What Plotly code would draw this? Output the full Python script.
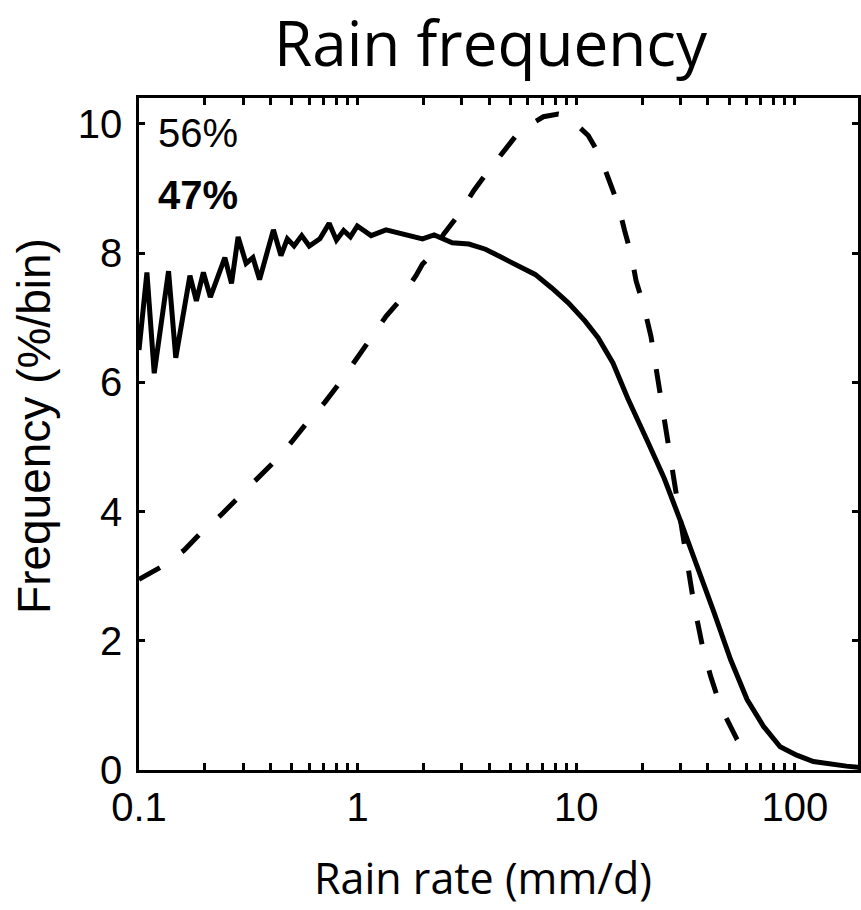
import plotly.graph_objects as go

# Solid curve (rain rate mm/d, frequency %/bin)
solid_x = [0.1, 0.1087, 0.1174, 0.1365, 0.1473, 0.171, 0.183, 0.197, 0.212, 0.247,
           0.265, 0.284, 0.309, 0.332, 0.356, 0.412, 0.446, 0.477, 0.512, 0.555,
           0.601, 0.672, 0.741, 0.800, 0.863, 0.927, 0.997, 1.153, 1.349, 1.607,
           1.981, 2.239, 2.710, 3.228, 3.846, 4.571, 5.445, 6.486, 7.727, 9.20,
           10.96, 12.59, 14.72, 17.22, 21.24, 25.29, 30.10, 35.86, 42.68, 50.82, 60.50,
           72.08, 85.70, 102.0, 121.6, 172.2, 200.0]
solid_y = [6.50, 7.70, 6.14, 7.72, 6.38, 7.65, 7.26, 7.70, 7.32, 7.93,
           7.53, 8.25, 7.84, 7.93, 7.59, 8.36, 7.96, 8.22, 8.11, 8.27,
           8.11, 8.22, 8.46, 8.20, 8.35, 8.25, 8.42, 8.27, 8.36, 8.29,
           8.22, 8.28, 8.16, 8.14, 8.06, 7.93, 7.80, 7.67, 7.46, 7.23,
           6.95, 6.69, 6.30, 5.75, 5.08, 4.51, 3.84, 3.16, 2.44, 1.71, 1.09,
           0.67, 0.36, 0.23, 0.13, 0.06, 0.04]

# Dashed curve
dash_x = [0.1, 0.1259, 0.1607, 0.188, 0.236, 0.281, 0.347, 0.412, 0.500, 0.585,
          0.708, 0.828, 1.349, 1.552, 1.849, 1.981, 2.123, 2.484, 2.909, 3.404,
          3.981, 4.742, 5.546, 7.079, 8.279, 9.12, 11.35, 12.82, 14.22, 15.52,
          16.64, 17.83, 18.79, 20.37, 21.98, 24.43, 27.10, 29.58, 32.28, 34.67,
          37.76, 41.21, 45.71, 54.45, 64.86]
dash_y = [2.95, 3.14, 3.40, 3.64, 3.94, 4.19, 4.51, 4.76, 5.08, 5.37,
          5.69, 5.99, 7.02, 7.26, 7.65, 7.83, 7.93, 8.30, 8.60, 8.97,
          9.28, 9.62, 9.90, 10.11, 10.15, 10.12, 9.82, 9.51, 9.10, 8.76,
          8.35, 7.98, 7.57, 7.18, 6.71, 5.75, 4.82, 4.04, 3.21, 2.54,
          1.92, 1.45, 0.98, 0.47, 0.18]

x_major = [0.1, 1, 10, 100]
x_major_text = ["0.1", "1", "10", "100"]
x_minor = [0.2, 0.3, 0.4, 0.5, 0.6, 0.7, 0.8, 0.9,
           2, 3, 4, 5, 6, 7, 8, 9,
           20, 30, 40, 50, 60, 70, 80, 90]
y_tickvals = [0, 2, 4, 6, 8, 10]
y_ticktext = ["0", "2", "4", "6", "8", "10"]

title_text = "Rain frequency"
xlabel = "Rain rate (mm/d)"
ylabel = "Frequency (%/bin)"
note1 = "56%"
note2 = "<b>47%</b>"

ARIAL = "Liberation Sans, Arial, Helvetica, sans-serif"
SANS = "Open Sans, sans-serif"

XRANGE = [-1, 2.289]
YRANGE = [0, 10.40]

fig = go.Figure()
fig.add_trace(go.Scatter(x=solid_x, y=solid_y, mode="lines",
                         line=dict(color="black", width=5),
                         showlegend=False, hoverinfo="skip"))
fig.add_trace(go.Scatter(x=dash_x, y=dash_y, mode="lines",
                         line=dict(color="black", width=5, dash="24px,27px"),
                         showlegend=False, hoverinfo="skip"))

fig.update_layout(
    width=861, height=910,
    margin=dict(l=139, r=0, t=98, b=140, pad=0),
    paper_bgcolor="white", plot_bgcolor="white",
    showlegend=False,
    xaxis=dict(type="log", range=XRANGE,
               tickmode="array", tickvals=x_major, ticktext=x_major_text,
               ticks="inside", ticklen=7, tickwidth=2.5, tickcolor="black",
               showline=True, linecolor="black", linewidth=2.5,
               mirror="ticks", showgrid=False, zeroline=False,
               layer="above traces",
               tickfont=dict(family=ARIAL, size=40, color="black"),
               minor=dict(tickmode="array", tickvals=x_minor, ticks="inside",
                          ticklen=7, tickwidth=2.5, tickcolor="black",
                          showgrid=False)),
    yaxis=dict(range=YRANGE,
               tickmode="array", tickvals=y_tickvals, ticktext=y_ticktext,
               ticks="inside", ticklen=6, tickwidth=2.5, tickcolor="black",
               showline=True, linecolor="black", linewidth=2.5,
               mirror="ticks", showgrid=False, zeroline=False,
               layer="above traces",
               tickfont=dict(family=ARIAL, size=40, color="black"),
               ticklabelstandoff=6),
    annotations=[
        dict(text=title_text, xref="paper", yref="paper", x=0.490, y=1.084,
             xanchor="center", yanchor="middle", showarrow=False,
             font=dict(family=SANS, size=62, color="black")),
        dict(text=xlabel, xref="paper", yref="paper", x=0.479, y=-0.160,
             xanchor="center", yanchor="middle", showarrow=False,
             font=dict(family=SANS, size=43, color="black")),
        dict(text=ylabel, xref="paper", yref="paper", x=-0.146, y=0.512,
             xanchor="center", yanchor="middle", showarrow=False, textangle=-90,
             font=dict(family=ARIAL, size=46, color="black")),
        dict(text=note1, xref="paper", yref="paper", x=0.0235, y=0.9486,
             xanchor="left", yanchor="middle", showarrow=False,
             font=dict(family=ARIAL, size=40, color="black")),
        dict(text=note2, xref="paper", yref="paper", x=0.0235, y=0.856,
             xanchor="left", yanchor="middle", showarrow=False,
             font=dict(family=ARIAL, size=40, color="black")),
    ],
)

fig.write_html("out.html")
